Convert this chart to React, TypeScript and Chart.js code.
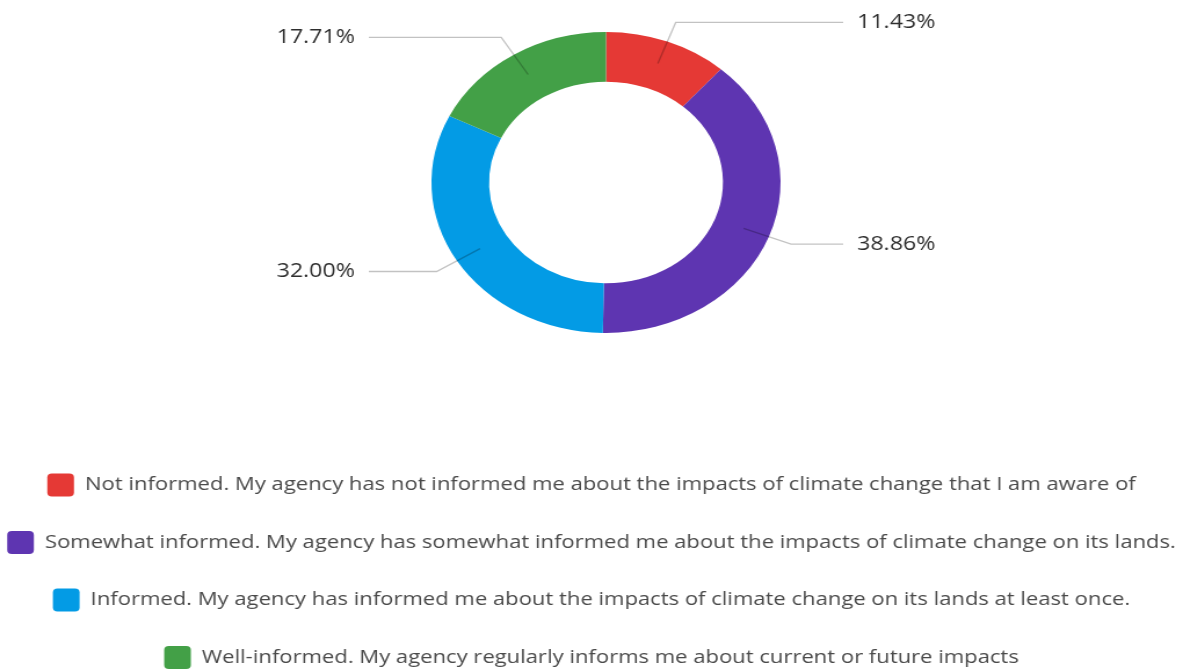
import React, { useEffect, useRef } from 'react';
import { Chart, registerables } from 'chart.js';

Chart.register(...registerables);

const categories = [
  'Not informed. My agency has not informed me about the impacts of climate change that I am aware of',
  'Somewhat informed. My agency has somewhat informed me about the impacts of climate change on its lands.',
  'Informed. My agency has informed me about the impacts of climate change on its lands at least once.',
  'Well-informed. My agency regularly informs me about current or future impacts',
];
const values = [11.43, 38.86, 32.0, 17.71];
const valueLabels = ['11.43%', '38.86%', '32.00%', '17.71%'];
const colors = ['#e53935', '#5e35b1', '#039be5', '#43a047'];

const CANVAS_W = 1020;
const CANVAS_H = 680;
const STRETCH = 1183 / CANVAS_W;

const areaPlugin = {
  id: 'areaFix',
  afterLayout(chart: any) {
    const ca = chart.chartArea;
    ca.top = 32;
    ca.bottom = 333;
    ca.height = ca.bottom - ca.top;
    ca.left += 12.5;
    ca.right += 12.5;
  },
};

const labelPlugin = {
  id: 'leaderLabels',
  afterDatasetsDraw(chart: any) {
    const meta = chart.getDatasetMeta(0);
    const ctx = chart.ctx;
    ctx.save();
    meta.data.forEach((arc: any, i: number) => {
      const { x, y, startAngle, endAngle, innerRadius, outerRadius } = arc.getProps(
        ['x', 'y', 'startAngle', 'endAngle', 'innerRadius', 'outerRadius'],
        true
      );
      const mid = (startAngle + endAngle) / 2;
      const cos = Math.cos(mid);
      const sin = Math.sin(mid);
      const r1 = (innerRadius + outerRadius) / 2 + 1.5;
      const r2 = outerRadius + 20.5;
      const x1 = x + r1 * cos;
      const y1 = y + r1 * sin;
      const x2 = x + r2 * cos;
      const y2 = y + r2 * sin;
      const right = cos >= 0;
      const x3 = right ? x + outerRadius + 54 : x - outerRadius - 54;
      ctx.beginPath();
      ctx.moveTo(x1, y1);
      ctx.lineTo(x2, y2);
      ctx.lineTo(x3, y2);
      ctx.strokeStyle = 'rgba(0,0,0,0.24)';
      ctx.lineWidth = 1.3;
      ctx.stroke();
      ctx.font = '20px "Open Sans", sans-serif';
      ctx.fillStyle = '#2e2e2e';
      ctx.textBaseline = 'middle';
      ctx.textAlign = right ? 'left' : 'right';
      ctx.fillText(valueLabels[i], right ? x3 + 12 : x3 - 12, y2);
    });
    ctx.restore();
  },
};

export default function App() {
  const ref = useRef<HTMLCanvasElement>(null);
  useEffect(() => {
    if (!ref.current) return;
    const chart = new Chart(ref.current, {
      type: 'doughnut',
      data: {
        labels: categories,
        datasets: [
          {
            data: values,
            backgroundColor: colors,
            borderWidth: 0,
            clip: false as any,
          },
        ],
      },
      options: {
        responsive: false,
        animation: false,
        devicePixelRatio: 1,
        cutout: '67%',
        layout: { padding: { top: 0, bottom: 1, left: 0, right: 0 } },
        plugins: {
          tooltip: { enabled: false },
          legend: {
            position: 'bottom',
            labels: {
              boxWidth: 23,
              boxHeight: 23,
              padding: 34.5,
              color: '#4a4a4a',
              font: { family: '"Open Sans", sans-serif', size: 19 },
              generateLabels: (ch: any) =>
                ch.data.labels.map((l: string, i: number) => ({
                  text: l,
                  fillStyle: colors[i],
                  strokeStyle: colors[i],
                  lineWidth: 0,
                  borderRadius: 4,
                  fontColor: '#4a4a4a',
                  hidden: false,
                  index: i,
                })),
            },
          },
        },
      },
      plugins: [areaPlugin, labelPlugin],
    });
    return () => chart.destroy();
  }, []);
  return (
    <div
      style={{
        position: 'fixed',
        left: 0,
        top: 0,
        width: 1183,
        height: 671,
        overflow: 'hidden',
        background: '#fff',
      }}
    >
      <canvas
        ref={ref}
        width={CANVAS_W}
        height={CANVAS_H}
        style={{
          display: 'block',
          width: CANVAS_W,
          height: CANVAS_H,
          transform: `scaleX(${STRETCH})`,
          transformOrigin: '0 0',
        }}
      />
    </div>
  );
}
